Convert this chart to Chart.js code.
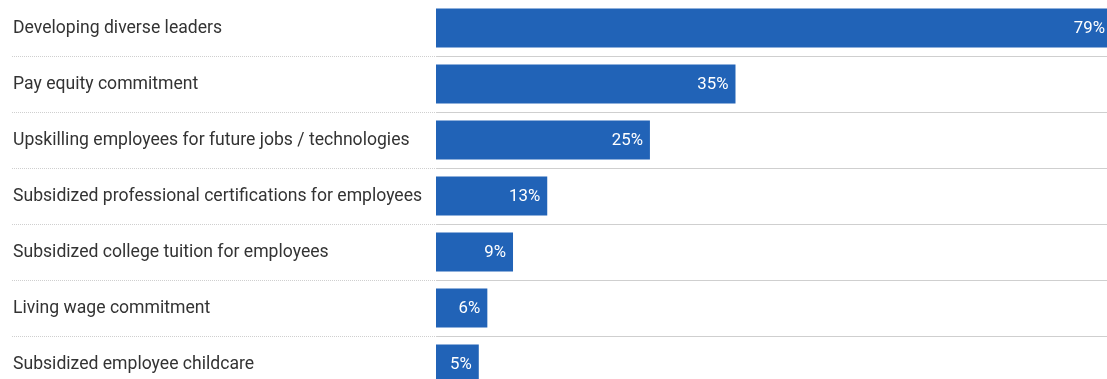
<!DOCTYPE html>
<html>
<head>
<meta charset="utf-8">
<script src="https://cdn.jsdelivr.net/npm/chart.js@4"></script>
<style>
  html, body { margin: 0; padding: 0; background: #ffffff; overflow: hidden; }
  #wrap { position: absolute; left: 0; top: 0; width: 1112px; height: 392px; }
</style>
</head>
<body>
<div id="wrap"><canvas id="chart" width="1112" height="392"></canvas></div>
<script>
// Share of companies offering each workforce program (%)
const categories = [
  'Developing diverse leaders',
  'Pay equity commitment',
  'Upskilling employees for future jobs / technologies',
  'Subsidized professional certifications for employees',
  'Subsidized college tuition for employees',
  'Living wage commitment',
  'Subsidized employee childcare'
];
const shares = [79, 35, 25, 13, 9, 6, 5];
const valueLabels = ['79%', '35%', '25%', '13%', '9%', '6%', '5%'];

const BAR_BLUE = '#2163b7';
const RULE_GREY = '#cfcfcf';

// White value text drawn just inside the end of each bar
const barValueText = {
  id: 'barValueText',
  afterDatasetsDraw(chart) {
    const ctx = chart.ctx;
    const meta = chart.getDatasetMeta(0);
    ctx.save();
    ctx.font = '16.8px Roboto';
    ctx.fillStyle = '#ffffff';
    ctx.textAlign = 'right';
    ctx.textBaseline = 'middle';
    meta.data.forEach((bar, i) => {
      ctx.fillText(valueLabels[i], bar.x - 7, bar.y + 1);
    });
    ctx.restore();
  }
};

new Chart(document.getElementById('chart'), {
  type: 'bar',
  data: {
    labels: categories,
    datasets: [{
      data: shares,
      backgroundColor: BAR_BLUE,
      borderWidth: 0,
      barPercentage: 0.7,
      categoryPercentage: 1.0
    }]
  },
  options: {
    indexAxis: 'y',
    responsive: false,
    animation: false,
    devicePixelRatio: 1,
    layout: { padding: { left: 13, right: 0, top: 0, bottom: 0 } },
    plugins: {
      legend: { display: false },
      tooltip: { enabled: false }
    },
    scales: {
      x: {
        display: false,
        min: 0,
        max: 79
      },
      y: {
        offset: true,
        border: { display: false },
        grid: {
          offset: true,
          drawTicks: true,
          tickLength: 424,
          lineWidth: 1,
          color: (c) => (c.index === 0 ? 'rgba(0,0,0,0)' : RULE_GREY),
          tickColor: (c) => (c.index === 0 ? 'rgba(0,0,0,0)' : RULE_GREY),
          borderDash: [1, 1],
          tickBorderDash: [1, 1]
        },
        ticks: {
          crossAlign: 'far',
          color: '#333333',
          font: { family: 'Roboto', size: 17.6 },
          labelOffset: 1,
          autoSkip: false
        },
        afterFit(scale) {
          // fixed label column; rows run edge to edge
          scale.width = 423;
          scale.paddingTop = 0;
          scale.paddingBottom = 0;
        }
      }
    }
  },
  plugins: [barValueText]
});
</script>
</body>
</html>
